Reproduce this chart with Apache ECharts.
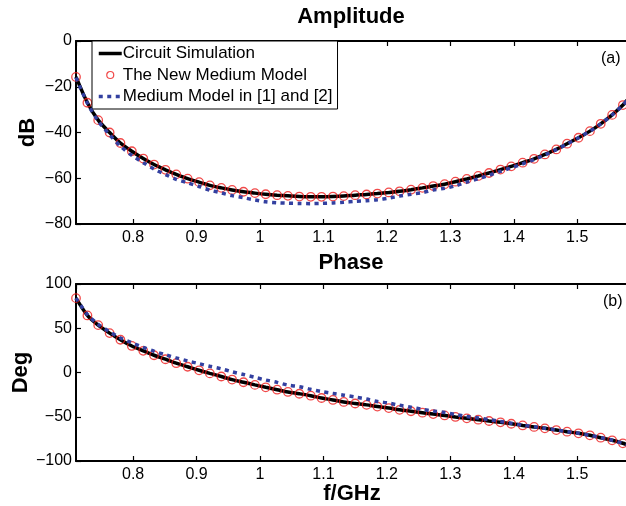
<!DOCTYPE html>
<html>
<head>
<meta charset="utf-8">
<script src="https://cdn.jsdelivr.net/npm/echarts@6/dist/echarts.min.js"></script>
<style>
  html, body { margin: 0; padding: 0; background: #fff; }
  #main { width: 626px; height: 506px; }
</style>
</head>
<body>
<div id="main"></div>
<script>
// frequency points (GHz) of the circle markers
const freq = [0.710, 0.728, 0.745, 0.763, 0.780, 0.798, 0.816, 0.833, 0.851, 0.868,
  0.886, 0.904, 0.921, 0.939, 0.956, 0.974, 0.992, 1.009, 1.027, 1.044,
  1.062, 1.080, 1.097, 1.115, 1.132, 1.150, 1.168, 1.185, 1.203, 1.220,
  1.238, 1.256, 1.273, 1.291, 1.308, 1.326, 1.344, 1.361, 1.379, 1.396,
  1.414, 1.432, 1.449, 1.467, 1.484, 1.502, 1.520, 1.537, 1.555, 1.572];
const freqEnd = 1.58;

// amplitude (dB)
const newAmp = [-15.7, -27, -34.6, -40, -44.6, -48.2, -51.4, -54, -56.3, -58.3,
  -60.2, -61.7, -63.1, -64.2, -65.1, -65.9, -66.5, -67, -67.4, -67.7,
  -68, -68.1, -68.1, -68, -67.8, -67.4, -67.1, -66.7, -66.2, -65.7,
  -65, -64.2, -63.4, -62.6, -61.5, -60.3, -59, -57.7, -56.2, -54.8,
  -53.2, -51.5, -49.6, -47.4, -44.9, -42.3, -39.4, -36.2, -32.3, -28];
const simAmp = [-15.7, -27, -34.6, -40, -44.6, -48.2, -51.4, -54, -56.3, -58.3,
  -60.2, -61.7, -63.1, -64.2, -65.1, -65.9, -66.5, -67, -67.4, -67.7,
  -68, -68.1, -68.1, -68, -67.8, -67.4, -67.1, -66.7, -66.2, -65.7,
  -65, -64.2, -63.4, -62.6, -61.5, -60.3, -59, -57.7, -56.2, -54.8,
  -53.2, -51.5, -49.6, -47.4, -44.9, -42.3, -39.4, -36.2, -32.3, -28, -25.4];
const oldAmp = [-16, -27.2, -35, -41, -46, -50, -53.2, -56, -58.4, -60.5,
  -62, -63.6, -65.2, -66.4, -67.6, -68.5, -69.5, -70.3, -70.7, -70.9,
  -71, -71.1, -71, -70.8, -70.5, -70.1, -69.8, -69.4, -68.7, -67.8,
  -67, -66.3, -65.1, -64.4, -63.3, -61.7, -60.2, -58.7, -57, -55.4,
  -53.7, -51.8, -49.8, -47.5, -45, -42.3, -39.4, -36.2, -32.3, -28, -25.4];

// phase (deg)
const newPhase = [84, 64.5, 53.5, 44.5, 37, 30, 24.5, 19.5, 15, 10.5,
  6.5, 2.5, -1, -4.5, -8, -11, -14, -16.7, -19.4, -22,
  -24, -26.2, -28.8, -31, -33.3, -35, -36.6, -38.5, -40.2, -42.2,
  -43.8, -45.4, -47, -48.5, -50.2, -51.8, -53.3, -54.8, -56.3, -57.9,
  -59.8, -61.5, -63.1, -65, -66.9, -68.7, -71, -73.7, -76.6, -80];
const simPhase = [84, 64.5, 53.5, 44.5, 37, 30, 24.5, 19.5, 15, 10.5,
  6.5, 2.5, -1, -4.5, -8, -11, -14, -16.7, -19.4, -22,
  -24, -26.2, -28.8, -31, -33.3, -35, -36.6, -38.5, -40.2, -42.2,
  -43.8, -45.4, -47, -48.5, -50.2, -51.8, -53.3, -54.8, -56.3, -57.9,
  -59.8, -61.5, -63.1, -65, -66.9, -68.7, -71, -73.7, -76.6, -80, -82];
const oldPhase = [84, 65.5, 54.5, 46, 39, 33.5, 28.5, 24, 20, 16.5,
  13, 10, 7, 4.2, 0.8, -2.3, -5.5, -8.5, -11.2, -14.3,
  -16, -19, -21.5, -23.6, -25.6, -27.7, -30, -32.8, -34.6, -37.1,
  -39.3, -41.6, -43.6, -45.2, -47.5, -49.6, -51.3, -53.3, -55.3, -57.3,
  -59.5, -61.3, -63, -64.9, -66.8, -68.6, -70.9, -73.6, -76.5, -80, -82];

const names = ['Circuit Simulation', 'The New Medium Model', 'Medium Model in [1] and [2]'];

var chartDom = document.getElementById('main');
var myChart = echarts.init(chartDom);
var option;

const font = 'Liberation Sans, Arial, Helvetica, sans-serif';
const lineFreq = freq.concat([freqEnd]);
const pair = (xs, ys) => ys.map((y, i) => [xs[i], y]);
const minus = v => String(v).replace('-', '\u2212');

const black = '#000';
const red = '#ee1c1c';
const blue = '#3340a0';
const dots = [4, 4.5];

const axisLine = { show: true, onZero: false, lineStyle: { color: '#000', width: 2 } };
const axisTick = { show: true, inside: true, length: 5, lineStyle: { color: '#000', width: 1.2 } };
const label = { color: '#000', fontSize: 16, fontFamily: font };
const nameStyle = { color: '#000', fontSize: 22, fontWeight: 'bold', fontFamily: font };

function xAxisFor(grid, pos, withLabels) {
  return {
    type: 'value',
    gridIndex: grid,
    position: pos,
    min: 0.71,
    max: freqEnd,
    splitNumber: 9,
    axisLine: axisLine,
    axisTick: axisTick,
    splitLine: { show: false },
    axisLabel: Object.assign({ show: withLabels, margin: 6, showMinLabel: false, showMaxLabel: false }, label)
  };
}

function seriesFor(xAxis, yAxis, sim, neu, old) {
  return [
    {
      name: names[0], type: 'line', xAxisIndex: xAxis, yAxisIndex: yAxis,
      symbol: 'none', smooth: 0.3, z: 2,
      itemStyle: { color: black },
      lineStyle: { color: black, width: 3.5 },
      data: pair(lineFreq, sim)
    },
    {
      name: names[1], type: 'scatter', xAxisIndex: xAxis, yAxisIndex: yAxis,
      symbol: 'circle', symbolSize: 8.5, z: 3,
      itemStyle: { color: 'rgba(255,255,255,0)', borderColor: red, borderWidth: 1.3 },
      data: pair(freq, neu)
    },
    {
      name: names[2], type: 'line', xAxisIndex: xAxis, yAxisIndex: yAxis,
      symbol: 'none', smooth: 0.3, z: 4,
      itemStyle: { color: blue },
      lineStyle: { color: blue, width: 3.5, type: dots, cap: 'butt' },
      data: pair(lineFreq, old)
    }
  ];
}

option = {
  animation: false,
  backgroundColor: '#fff',
  title: [
    { text: 'Amplitude', left: 351, top: 6, textAlign: 'center', padding: 0, textStyle: nameStyle },
    { text: 'Phase', left: 351, top: 252, textAlign: 'center', padding: 0, textStyle: nameStyle }
  ],
  graphic: [
    { type: 'text', left: 601, top: 51, style: { text: '(a)', fill: '#000', font: '16px ' + font } },
    { type: 'text', left: 603, top: 294, style: { text: '(b)', fill: '#000', font: '16px ' + font } }
  ],
  legend: {
    data: [
      { name: names[0], itemStyle: { opacity: 0 }, lineStyle: { color: black, width: 3.5 } },
      { name: names[1], itemStyle: { color: 'rgba(255,255,255,0)', borderColor: red, borderWidth: 1.2 } },
      { name: names[2], itemStyle: { opacity: 0 }, lineStyle: { color: blue, width: 3.5, type: dots, cap: 'butt' } }
    ],
    orient: 'vertical',
    left: 92,
    top: 41,
    padding: [3, 5, 3, 5],
    itemGap: 2.5,
    itemWidth: 23,
    itemHeight: 7,
    selectedMode: false,
    borderColor: '#000',
    borderWidth: 1,
    borderRadius: 0,
    backgroundColor: '#fff',
    textStyle: { color: '#000', fontSize: 17, fontFamily: font, lineHeight: 19, padding: [0, 0, 0, -4] }
  },
  grid: [
    { left: 76, right: -2, top: 41, height: 183, outerBoundsMode: 'none', containLabel: false },
    { left: 76, right: -2, top: 284, height: 177, outerBoundsMode: 'none', containLabel: false }
  ],
  xAxis: [
    xAxisFor(0, 'bottom', true),
    xAxisFor(0, 'top', false),
    Object.assign(xAxisFor(1, 'bottom', true), {
      name: 'f/GHz', nameLocation: 'middle', nameGap: 22, nameMoveOverlap: false, nameTextStyle: nameStyle
    }),
    xAxisFor(1, 'top', false)
  ],
  yAxis: [
    {
      type: 'value', gridIndex: 0, min: -80, max: 0, interval: 20,
      name: 'dB', nameLocation: 'middle', nameGap: 37, nameMoveOverlap: false, nameTextStyle: nameStyle,
      axisLine: axisLine, axisTick: axisTick, splitLine: { show: false },
      axisLabel: Object.assign({ margin: 4, formatter: minus }, label)
    },
    {
      type: 'value', gridIndex: 1, min: -100, max: 100, interval: 50,
      name: 'Deg', nameLocation: 'middle', nameGap: 44, nameMoveOverlap: false, nameTextStyle: nameStyle,
      axisLine: axisLine, axisTick: axisTick, splitLine: { show: false },
      axisLabel: Object.assign({ margin: 4, formatter: minus }, label)
    }
  ],
  series: [
    ...seriesFor(0, 0, simAmp, newAmp, oldAmp),
    ...seriesFor(2, 1, simPhase, newPhase, oldPhase)
  ]
};

option && myChart.setOption(option);
</script>
</body>
</html>
